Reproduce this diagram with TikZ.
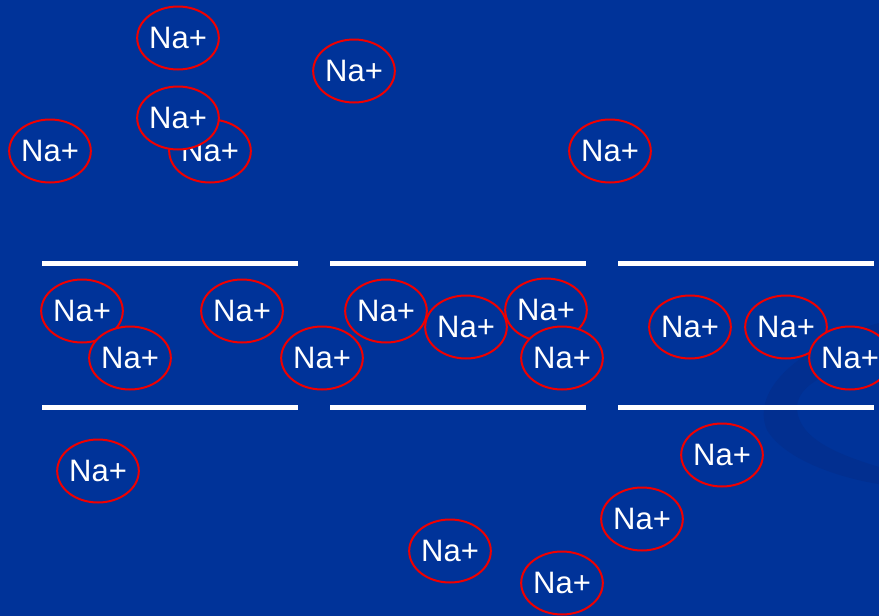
\documentclass[tikz,border=0pt]{standalone}
\usepackage{fontspec}
\setmainfont{Liberation Sans}
\usetikzlibrary{shapes.geometric}
\definecolor{bgblue}{RGB}{0,51,153}
\definecolor{swoosh}{RGB}{2,47,144}
\definecolor{ionred}{RGB}{240,0,0}
\tikzset{
  ion/.style={ellipse, draw=ionred, line width=2pt, fill=bgblue,
    minimum width=79pt, minimum height=63pt, inner sep=0pt,
    text=white, font=\fontsize{31}{32}\selectfont},
  membrane/.style={draw=white, line width=5pt}
}
\begin{document}
\begin{tikzpicture}[x=1pt,y=-1pt]
\fill[bgblue] (0,0) rectangle (879,616);
\useasboundingbox (0,0) rectangle (879,616);
% faint swoosh
\fill[swoosh] (879,323) .. controls (800,345) and (750,390) .. (767,430)
  .. controls (785,460) and (840,478) .. (879,484) -- (879,467)
  .. controls (840,455) and (800,440) .. (797,410)
  .. controls (795,385) and (830,368) .. (879,362) -- cycle;
% membranes
\foreach \xa/\xb in {42/298, 330/586, 618/874} {
  \draw[membrane] (\xa,263) -- (\xb,263);
  \draw[membrane] (\xa,407) -- (\xb,407);
}
% ions above
\node[ion] (n1) at (178,38) {Na+};
\node[ion] (n2) at (354,71) {Na+};
\node[ion] (n3) at (50,151) {Na+};
\node[ion] (n4) at (210,151) {Na+};
\node[ion] (n5) at (178,118) {Na+};
\node[ion] (n6) at (610,151) {Na+};
% ions in the channel
\node[ion] (n7) at (82,311) {Na+};
\node[ion] (n8) at (130,358) {Na+};
\node[ion] (n9) at (242,311) {Na+};
\node[ion] (n10) at (322,358) {Na+};
\node[ion] (n11) at (386,311) {Na+};
\node[ion] (n12) at (466,327) {Na+};
\node[ion] (n13) at (546,310) {Na+};
\node[ion] (n14) at (562,358) {Na+};
\node[ion] (n15) at (690,327) {Na+};
\node[ion] (n16) at (786,327) {Na+};
\node[ion] (n17) at (850,358) {Na+};
% ions below
\node[ion] (n18) at (98,471) {Na+};
\node[ion] (n19) at (722,455) {Na+};
\node[ion] (n20) at (642,519) {Na+};
\node[ion] (n21) at (450,551) {Na+};
\node[ion] (n22) at (562,583) {Na+};
\end{tikzpicture}
\end{document}
